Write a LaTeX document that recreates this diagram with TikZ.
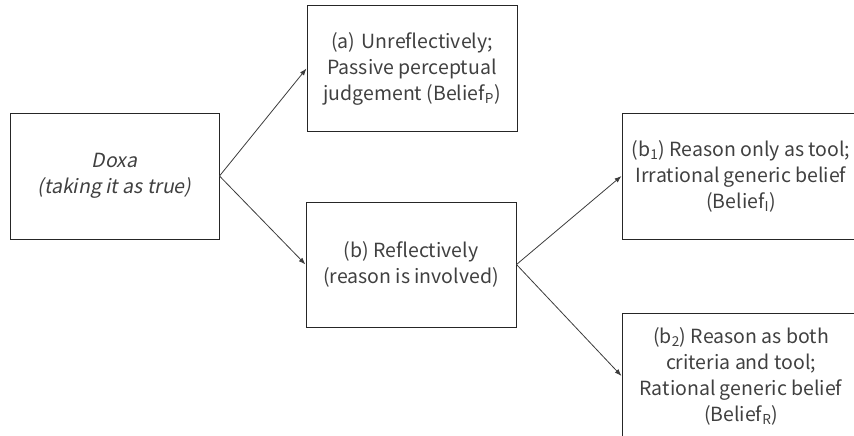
\documentclass[tikz,border=0pt]{standalone}
\usepackage{fontspec}
\setmainfont{Noto Sans CJK SC}[AutoFakeSlant=0.2]
\usetikzlibrary{arrows.meta}
\definecolor{txt}{HTML}{404040}
\definecolor{edge}{HTML}{262626}
\tikzset{
  box/.style={draw=edge, line width=1pt, minimum width=#1, minimum height=126pt,
    inner sep=0pt, align=center, text=txt,
    font=\fontsize{19.5}{26}\selectfont},
  box/.default=210pt,
  conn/.style={draw=edge!90, line width=0.8pt, -{Latex[length=7pt,width=5pt]}}
}
\begin{document}
\begin{tikzpicture}[x=1pt,y=-1pt]
\useasboundingbox (0,0) rectangle (854,436);
\begin{scope}
\clip (0,0) rectangle (854,436);
\node[box=209pt] (doxa) at (114.5,176) {\itshape Doxa\\\itshape (taking it as true)};
\node[box=210pt, minimum height=125pt] (a) at (412,68.5) {(a)\,\,Unreflectively;\\Passive perceptual\\judgement (Belief\textsubscript{P})};
\node[box=210pt, minimum height=125pt] (b) at (411,264.5) {(b) Reflectively\\(reason is involved)};
\node[box=238pt] (b1) at (741,176) {(b\textsubscript{1}) Reason only as tool;\\Irrational generic belief\\(Belief\textsubscript{I})};
\node[box=238pt] (b2) at (741,376) {(b\textsubscript{2}) Reason as both\\criteria and tool;\\Rational generic belief\\(Belief\textsubscript{R})};
\end{scope}
\draw[conn] (doxa.east) -- (a.west);
\draw[conn] (doxa.east) -- (b.west);
\draw[conn] (b.east) -- (b1.west);
\draw[conn] (b.east) -- (b2.west);
\end{tikzpicture}
\end{document}
